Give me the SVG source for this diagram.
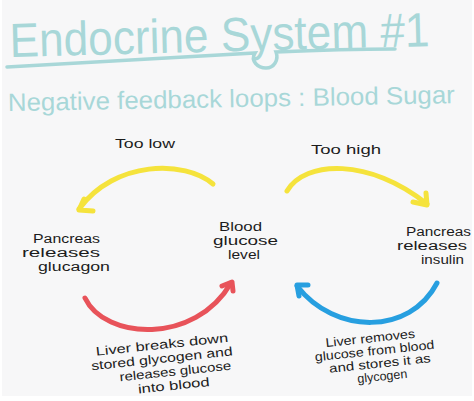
<svg xmlns="http://www.w3.org/2000/svg" width="474" height="401" viewBox="0 0 474 401">
<style>
.title{font-family:"Liberation Sans","DejaVu Sans",sans-serif;fill:#a8d7d8}
.t{font-family:"Liberation Sans","DejaVu Sans",sans-serif;font-size:12.5px;fill:#1c1c1c}
.arc{fill:none;stroke-width:5;stroke-linecap:round;stroke-linejoin:round}
.y{stroke:#f5e33c}
.r{stroke:#e8535a}
.b{stroke:#279fe0}
</style>
<rect width="474" height="401" fill="#ffffff"/>
<rect x="2" y="0" width="470" height="396" fill="#f7f7f8"/>
<g id="title">
<text class="title" x="10" y="57" font-size="48" textLength="420" lengthAdjust="spacingAndGlyphs" transform="rotate(-1.5 10 57)">Endocrine System #1</text>
<path d="M7,67 C80,63 180,57 255,53 C250,61 258,68 266,68 C274,68 279,60 276,52 C320,50 360,49 395,49" fill="none" stroke="#a8d7d8" stroke-width="3.5" stroke-linecap="round"/>
<text class="title" x="8" y="111" font-size="25" textLength="447" lengthAdjust="spacingAndGlyphs" transform="rotate(-1 8 111)">Negative feedback loops : Blood Sugar</text>
</g>
<g id="connectors">
<path class="arc y" d="M213,184 C185,160 115,160 79,209"/>
<path class="arc y" d="M93,211 L79,210 L84,199"/>
<path class="arc y" d="M287,191 C305,160 370,158 427,204"/>
<path class="arc y" d="M413,202 L427,205 L426,193"/>
<path class="arc r" d="M85,298 C105,340 195,345 231,283"/>
<path class="arc r" d="M222,286 L232,282 L233,291"/>
<path class="arc b" d="M437,283 C410,335 335,335 297,286"/>
<path class="arc b" d="M308,285 L297,285 L299,296"/>
</g>
<g id="label-too-low"><text class="t" x="115" y="148" font-size="16" textLength="60" lengthAdjust="spacingAndGlyphs">Too low</text></g>
<g id="label-too-high"><text class="t" x="311" y="154" font-size="16" textLength="70" lengthAdjust="spacingAndGlyphs">Too high</text></g>
<g id="node-pancreas-glucagon">
<text class="t" x="33" y="243" textLength="67" lengthAdjust="spacingAndGlyphs">Pancreas</text>
<text class="t" x="22" y="257" textLength="78" lengthAdjust="spacingAndGlyphs">releases</text>
<text class="t" x="38" y="271" textLength="72" lengthAdjust="spacingAndGlyphs">glucagon</text>
</g>
<g id="node-blood-glucose">
<text class="t" x="219" y="231" textLength="43" lengthAdjust="spacingAndGlyphs">Blood</text>
<text class="t" x="213" y="245" textLength="65" lengthAdjust="spacingAndGlyphs">glucose</text>
<text class="t" x="228" y="259" textLength="32" lengthAdjust="spacingAndGlyphs">level</text>
</g>
<g id="node-pancreas-insulin">
<text class="t" x="406" y="236" textLength="65" lengthAdjust="spacingAndGlyphs">Pancreas</text>
<text class="t" x="397" y="250" textLength="70" lengthAdjust="spacingAndGlyphs">releases</text>
<text class="t" x="421" y="264" textLength="43" lengthAdjust="spacingAndGlyphs">insulin</text>
</g>
<g id="label-liver-glucagon" transform="rotate(-6 160 360)">
<text class="t" x="97" y="349" textLength="133" lengthAdjust="spacingAndGlyphs">Liver breaks down</text>
<text class="t" x="91" y="363" textLength="142" lengthAdjust="spacingAndGlyphs">stored glycogen and</text>
<text class="t" x="118" y="377" textLength="112" lengthAdjust="spacingAndGlyphs">releases glucose</text>
<text class="t" x="135" y="391" textLength="72" lengthAdjust="spacingAndGlyphs">into blood</text>
</g>
<g id="label-liver-insulin" transform="rotate(-6 375 355)">
<text class="t" x="327" y="342" textLength="90" lengthAdjust="spacingAndGlyphs">Liver removes</text>
<text class="t" x="315" y="355" textLength="120" lengthAdjust="spacingAndGlyphs">glucose from blood</text>
<text class="t" x="328" y="368" textLength="102" lengthAdjust="spacingAndGlyphs">and stores it as</text>
<text class="t" x="355" y="381" textLength="50" lengthAdjust="spacingAndGlyphs">glycogen</text>
</g>
</svg>
